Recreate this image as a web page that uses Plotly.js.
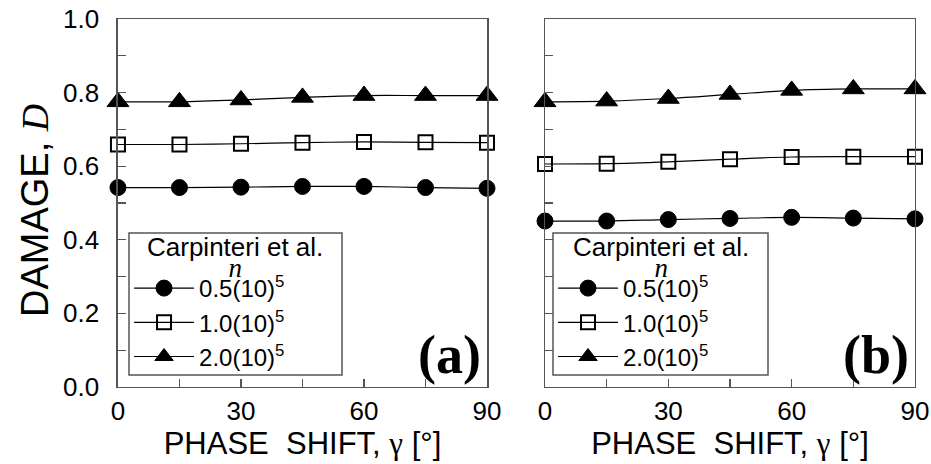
<!DOCTYPE html>
<html>
<head>
<meta charset="utf-8">
<script src="https://cdn.plot.ly/plotly-3.0.1.min.js"></script>
<style>html,body{margin:0;padding:0;background:#fff;}#chart{width:931px;height:464px;}</style>
</head>
<body>
<div id="chart"></div>
<script>
const gamma = [0, 15, 30, 45, 60, 75, 90];
const seriesNames = ['0.5(10)<sup>5</sup>', '1.0(10)<sup>5</sup>', '2.0(10)<sup>5</sup>'];
// panel (a)
const a_n05 = [0.542, 0.542, 0.543, 0.545, 0.545, 0.542, 0.540];
const a_n10 = [0.659, 0.659, 0.661, 0.664, 0.666, 0.665, 0.664];
const a_n20 = [0.775, 0.775, 0.780, 0.787, 0.792, 0.792, 0.792];
// panel (b)
const b_n05 = [0.451, 0.451, 0.455, 0.458, 0.461, 0.459, 0.457];
const b_n10 = [0.606, 0.607, 0.612, 0.619, 0.625, 0.626, 0.626];
const b_n20 = [0.775, 0.777, 0.784, 0.795, 0.806, 0.810, 0.810];
const xTickVals = [0, 30, 60, 90];
const yTickVals = [0, 0.2, 0.4, 0.6, 0.8, 1.0];
const yTickText = ['0.0', '0.2', '0.4', '0.6', '0.8', '1.0'];
const legendHeading = 'Carpinteri et al.';
const legendSubHeading = 'n';
const yTitle = 'DAMAGE, <span style="font-family:Liberation Serif"><i>D</i></span>';
const xTitle = 'PHASE  SHIFT, <span style="font-family:Liberation Serif">γ</span> [°]';

const SANS = 'Liberation Sans, Arial, sans-serif';
const SERIF = 'Liberation Serif, Times New Roman, serif';
const markers = [
  {symbol: 'circle', size: 16, color: '#000', line: {color: '#000', width: 1}},
  {symbol: 'square-open', size: 14, color: '#000', line: {color: '#000', width: 2}},
  {symbol: 'triangle-up', size: 19, color: '#000', line: {color: '#000', width: 1}}
];
function mk(y, i, xa, ya, leg) {
  return {x: gamma, y: y, xaxis: xa, yaxis: ya, legend: leg, name: seriesNames[i],
    type: 'scatter', mode: 'lines+markers', line: {color: '#000', width: 1.2, shape: 'spline'},
    marker: markers[i], cliponaxis: false};
}
const data = [
  mk(a_n05, 0, 'x', 'y', 'legend'), mk(a_n10, 1, 'x', 'y', 'legend'), mk(a_n20, 2, 'x', 'y', 'legend'),
  mk(b_n05, 0, 'x2', 'y2', 'legend2'), mk(b_n10, 1, 'x2', 'y2', 'legend2'), mk(b_n20, 2, 'x2', 'y2', 'legend2')
];
const axLine = '#555';
function xax(dom, anchor) {
  return {domain: dom, anchor: anchor, range: [0, 90], tickvals: xTickVals, ticks: 'inside', ticklen: 8,
    tickwidth: 1.2, tickcolor: axLine, showline: true, linecolor: axLine, linewidth: 1.5, mirror: true,
    showgrid: false, zeroline: false, tickfont: {family: SANS, size: 26, color: '#000'},
    minor: {dtick: 15, tick0: 0, ticks: 'inside', ticklen: 8, tickwidth: 1.2, tickcolor: axLine, showgrid: false},
    title: {text: xTitle, font: {family: SANS, size: 31, color: '#000'}, standoff: 6}};
}
function yax(anchor, labels) {
  return {domain: [0.166, 0.959], anchor: anchor, range: [0, 1], tickvals: yTickVals, ticktext: yTickText,
    showticklabels: labels, ticks: 'inside', ticklen: 8, tickwidth: 1.2, tickcolor: axLine,
    showline: true, linecolor: axLine, linewidth: 1.5, mirror: true, showgrid: false, zeroline: false,
    tickfont: {family: SANS, size: 26, color: '#000'}, ticklabelstandoff: 12,
    minor: {dtick: 0.1, tick0: 0, ticks: 'inside', ticklen: 8, tickwidth: 1.2, tickcolor: axLine, showgrid: false}};
}
function leg(x) {
  return {x: x, y: 1 - 266 / 464, xanchor: 'left', yanchor: 'top', xref: 'paper', yref: 'paper',
    bgcolor: 'rgba(255,255,255,0)', borderwidth: 0, font: {family: SANS, size: 24, color: '#000'},
    itemwidth: 60, tracegroupgap: 0};
}

// legend frames (paper px -> fractions)
const boxes = [[129, 342], [553, 768]];
const shapes = boxes.map(b => ({type: 'rect', xref: 'paper', yref: 'paper',
  x0: b[0] / 931, x1: b[1] / 931, y0: 1 - 375 / 464, y1: 1 - 233 / 464,
  line: {color: axLine, width: 1.5}, fillcolor: 'rgba(0,0,0,0)', layer: 'above'}));
const annotations = [];
boxes.forEach(b => {
  const cx = (b[0] + b[1]) / 2 / 931;
  annotations.push({
    text: '<span style="font-size:26px">' + legendHeading + '</span><br><span style="font-family:Liberation Serif;font-size:27px"><i>' + legendSubHeading + '</i></span>',
    xref: 'paper', yref: 'paper', x: cx, y: 1 - 257 / 464,
    xanchor: 'center', yanchor: 'middle', showarrow: false, font: {family: SANS, size: 16, color: '#000'}});
});
annotations.push({text: '<b>(a)</b>', xref: 'x', yref: 'y', x: 89, y: 0.0, xanchor: 'right', yanchor: 'bottom', showarrow: false,
  font: {family: SERIF, size: 54, color: '#000'}});
annotations.push({text: '<b>(b)</b>', xref: 'x2', yref: 'y2', x: 89, y: 0.0, xanchor: 'right', yanchor: 'bottom', showarrow: false,
  font: {family: SERIF, size: 54, color: '#000'}});
annotations.push({text: yTitle, xref: 'paper', yref: 'paper', x: 35 / 931, y: 1 - 211 / 464, textangle: -90,
  xanchor: 'center', yanchor: 'middle', showarrow: false, font: {family: SANS, size: 38, color: '#000'}});

const layout = {
  width: 931, height: 464, margin: {l: 0, r: 0, t: 0, b: 0},
  paper_bgcolor: '#fff', plot_bgcolor: '#fff', showlegend: true,
  xaxis: xax([0.1267, 0.5231], 'y'), yaxis: yax('x', true),
  xaxis2: xax([0.5854, 0.9828], 'y2'), yaxis2: yax('x2', false),
  legend: leg(0.1386), legend2: leg(0.594),
  shapes: shapes, annotations: annotations
};
Plotly.newPlot('chart', data, layout, {staticPlot: true});
</script>
</body>
</html>
